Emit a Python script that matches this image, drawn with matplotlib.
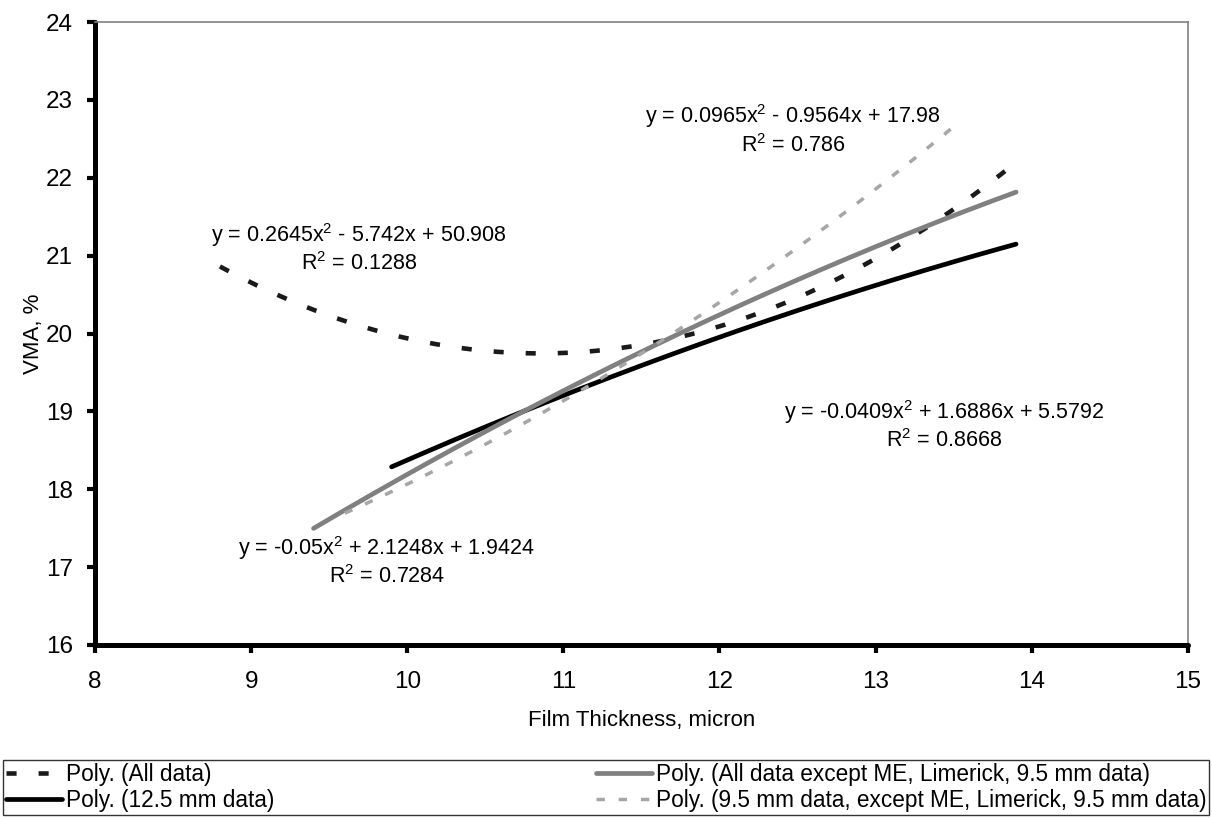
import numpy as np
import matplotlib
matplotlib.use("Agg")
import matplotlib.pyplot as plt

plt.rcParams['font.family'] = ['Liberation Sans', 'DejaVu Sans']
plt.rcParams['mathtext.fontset'] = 'custom'
plt.rcParams['mathtext.rm'] = 'Liberation Sans'
plt.rcParams['mathtext.it'] = 'Liberation Sans'

# quadratic trend lines: y = a*x^2 + b*x + c
names = ["Poly. (All data)",
         "Poly. (12.5 mm data)",
         "Poly. (All data except ME, Limerick, 9.5 mm data)",
         "Poly. (9.5 mm data, except ME, Limerick, 9.5 mm data)"]
coef_a = [0.2645, -0.0409, -0.05, 0.0965]
coef_b = [-5.742, 1.6886, 2.1248, -0.9564]
coef_c = [50.908, 5.5792, 1.9424, 17.98]
r2 = ["0.1288", "0.8668", "0.7284", "0.786"]
x_start = [8.8, 9.9, 9.4, 9.6]
x_end = [13.9, 13.9, 13.9, 13.5]

# where each equation label sits (data coords)
lab_x = [9.69, 13.44, 9.87, 12.47]
lab_y = [21.27, 18.99, 17.25, 22.79]

colors = ['#1a1a1a', '#000000', '#808080', '#a6a6a6']
widths = [3.3, 3.4, 3.4, 2.5]
dashes = [(2.2, 4.8), None, None, (2.4, 4.0)]

fig = plt.figure(figsize=(12.12, 8.18), dpi=100)
ax = fig.add_axes([0.0784, 0.2115, 0.9016, 0.7615])

handles = []
for i in range(4):
    xs = np.linspace(x_start[i], x_end[i], 200)
    ys = coef_a[i] * xs ** 2 + coef_b[i] * xs + coef_c[i]
    kw = dict(color=colors[i], lw=widths[i], solid_capstyle='round')
    if dashes[i] is not None:
        kw['dashes'] = dashes[i]
        kw['dash_capstyle'] = 'butt'
    ln, = ax.plot(xs, ys, label=names[i], **kw)
    handles.append(ln)

def fmt(v, first=False):
    s = ("%g" % abs(v))
    if first:
        return ("-" if v < 0 else "") + s
    return ("- " if v < 0 else "+ ") + s

for i in range(4):
    eq = "y = " + fmt(coef_a[i], True) + "x$^2$ " + fmt(coef_b[i]) + "x " + fmt(coef_c[i])
    ax.text(lab_x[i], lab_y[i], eq, ha='center', va='center', fontsize=15.5)
    ax.text(lab_x[i], lab_y[i] - 0.37, "R$^2$ = " + r2[i], ha='center', va='center', fontsize=15.5)

ax.set_xlim(8, 15)
ax.set_ylim(16, 24)
ax.set_xticks(range(8, 16))
ax.set_yticks(range(16, 25))
ax.tick_params(direction='out', length=6, width=3, labelsize=17.5, pad=10, color='black')
ax.tick_params(axis='x', pad=13)

ax.spines['left'].set_linewidth(3.6)
ax.spines['bottom'].set_linewidth(3.6)
ax.spines['left'].set_capstyle('round')
ax.spines['bottom'].set_capstyle('round')
ax.spines['top'].set_color('#808080')
ax.spines['right'].set_color('#808080')
ax.spines['top'].set_linewidth(1.2)
ax.spines['right'].set_linewidth(1.2)

ax.set_xlabel("Film Thickness, micron", fontsize=16, labelpad=12)
ax.set_ylabel("VMA, %", fontsize=16, labelpad=1.5)

leg = fig.legend(handles=handles, loc='lower left', ncol=2, mode='expand',
                 bbox_to_anchor=(0.0025, 0.004, 0.995, 0.071),
                 fontsize=16.3, frameon=True, fancybox=False, handlelength=2.5,
                 handletextpad=0.15, borderaxespad=0, borderpad=0.12,
                 labelspacing=0.15)
leg.get_frame().set_edgecolor('black')
leg.get_frame().set_linewidth(1)

fig.savefig("out.png", dpi=100)
